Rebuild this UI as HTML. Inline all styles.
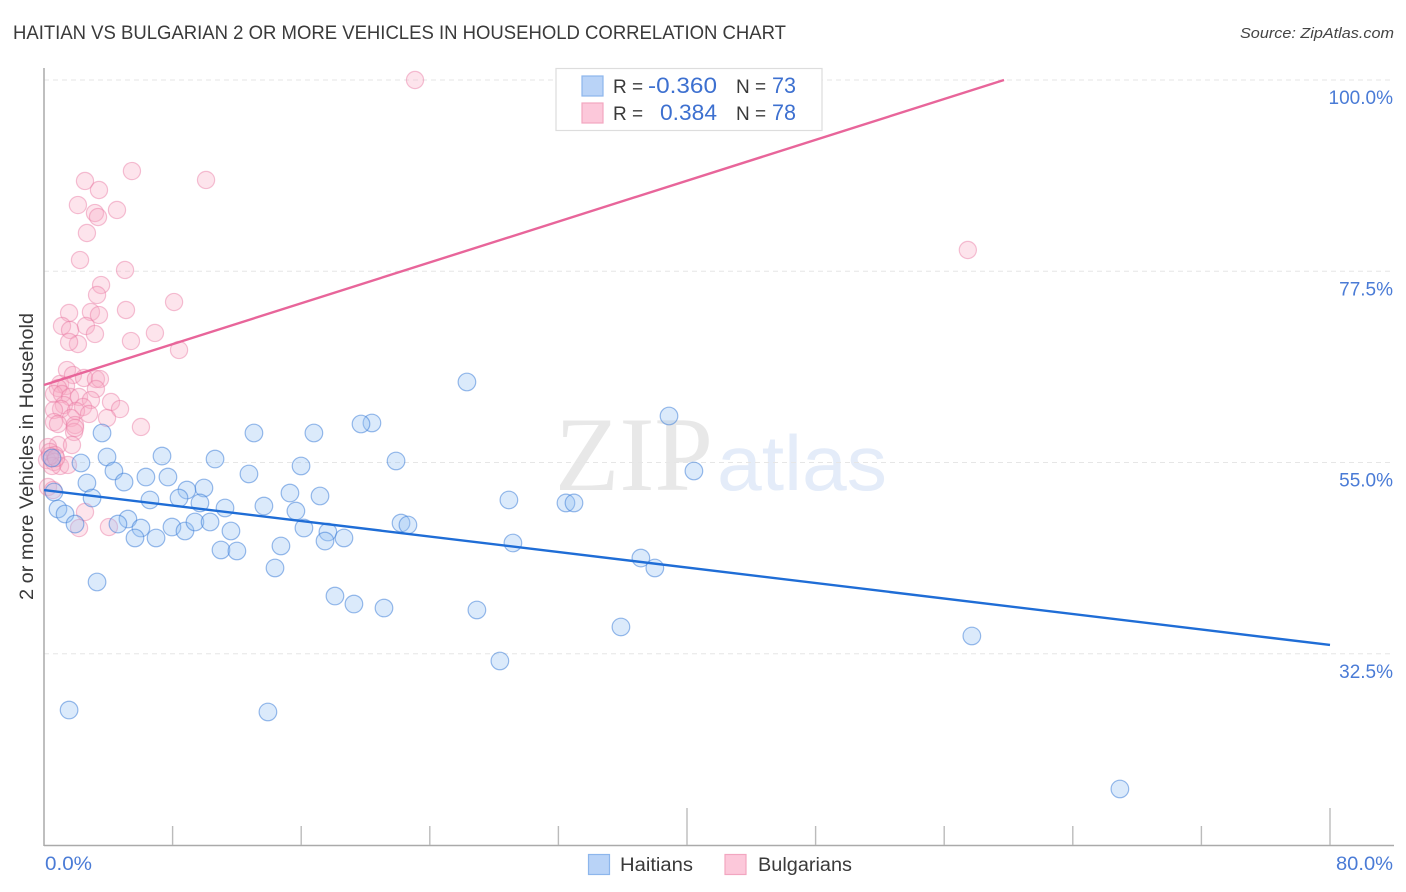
<!DOCTYPE html>
<html>
<head>
<meta charset="utf-8">
<style>
html,body{margin:0;padding:0;background:#fff;width:1406px;height:892px;overflow:hidden}
svg{display:block;font-family:"Liberation Sans",sans-serif}
</style>
</head>
<body>
<svg id="chart" width="1406" height="892" viewBox="0 0 1406 892" xmlns="http://www.w3.org/2000/svg">
  <text x="13" y="39" font-size="19" fill="#3a3a3a" textLength="773" lengthAdjust="spacingAndGlyphs">HAITIAN VS BULGARIAN 2 OR MORE VEHICLES IN HOUSEHOLD CORRELATION CHART</text>
  <text x="1394" y="38" font-size="15" font-style="italic" fill="#444" text-anchor="end" textLength="154" lengthAdjust="spacingAndGlyphs">Source: ZipAtlas.com</text>

  <g>
    <text x="555" y="490" font-family="'Liberation Serif',serif" font-size="106" fill="#e8e8e8" textLength="158" lengthAdjust="spacingAndGlyphs">ZIP</text>
    <text x="717" y="490" font-size="78" fill="#e4ecf9" textLength="170" lengthAdjust="spacingAndGlyphs">atlas</text>
  </g>

  <g id="grid"></g>
  <g id="axes"></g>
  <g id="ticklabels"></g>

  <text transform="translate(33,600) rotate(-90)" font-size="19" fill="#3a3a3a" textLength="287" lengthAdjust="spacingAndGlyphs">2 or more Vehicles in Household</text>

  <g id="pink-points"></g>
  <g id="blue-points"></g>
  <g id="trends"></g>

  <g>
    <rect x="556" y="68.5" width="266" height="62" fill="#fff" stroke="#ddd" stroke-width="1.2"/>
    <rect x="582" y="76" width="21" height="20" fill="#b9d3f7" stroke="#8db6ec" stroke-width="1.2"/>
    <rect x="582" y="103" width="21" height="20" fill="#fcc8da" stroke="#f2a6c0" stroke-width="1.2"/>
    <text x="613" y="93" font-size="19" fill="#3a3a3a">R =</text>
    <text x="717" y="93" font-size="22" fill="#3d70d0" text-anchor="end" textLength="69" lengthAdjust="spacingAndGlyphs">-0.360</text>
    <text x="736" y="93" font-size="19" fill="#3a3a3a">N =</text>
    <text x="796" y="93" font-size="22" fill="#3d70d0" text-anchor="end" textLength="24" lengthAdjust="spacingAndGlyphs">73</text>
    <text x="613" y="120" font-size="19" fill="#3a3a3a">R =</text>
    <text x="717" y="120" font-size="22" fill="#3d70d0" text-anchor="end" textLength="57" lengthAdjust="spacingAndGlyphs">0.384</text>
    <text x="736" y="120" font-size="19" fill="#3a3a3a">N =</text>
    <text x="796" y="120" font-size="22" fill="#3d70d0" text-anchor="end" textLength="24" lengthAdjust="spacingAndGlyphs">78</text>
  </g>

  <g>
    <rect x="588.5" y="854.5" width="21" height="20" fill="#b9d3f7" stroke="#8db6ec" stroke-width="1.2"/>
    <text x="620" y="871" font-size="19" fill="#3a3a3a" textLength="73" lengthAdjust="spacingAndGlyphs">Haitians</text>
    <rect x="725" y="854.5" width="21" height="20" fill="#fcc8da" stroke="#f2a6c0" stroke-width="1.2"/>
    <text x="758" y="871" font-size="19" fill="#3a3a3a" textLength="94" lengthAdjust="spacingAndGlyphs">Bulgarians</text>
  </g>
</svg>
<script>
var haitianX = [26.31,38.88,40.43,20.40,19.72,13.06,16.79,3.61,21.90,10.64,15.99,7.34,3.92,2.30,4.35,12.75,6.34,7.71,4.98,2.67,9.95,8.89,15.30,17.17,6.59,8.40,2.99,9.70,0.62,0.87,1.31,13.68,11.26,15.67,28.92,32.47,32.97,1.93,5.22,4.60,6.03,7.96,8.77,9.39,10.33,11.63,5.66,6.97,16.17,17.66,17.48,18.66,22.21,22.64,14.74,11.01,12.00,29.17,37.13,38.00,14.37,3.30,18.10,19.28,21.15,26.93,35.89,57.72,28.36,1.56,13.93,66.93,0.50];
var haitianY = [64.47,60.47,54.00,59.65,59.53,58.47,58.47,58.47,55.18,55.41,54.59,55.76,55.65,54.94,54.00,53.65,53.29,53.29,52.70,52.59,52.00,51.76,51.41,51.06,50.59,50.82,50.82,50.24,51.53,49.53,48.94,49.88,49.65,49.29,50.59,50.24,50.24,47.76,48.35,47.76,47.29,47.41,46.94,48.00,48.00,46.94,46.12,46.12,47.29,46.82,45.76,46.12,47.88,47.65,45.18,44.71,44.59,45.53,43.76,42.59,42.59,40.94,39.29,38.35,37.88,37.65,35.65,34.59,31.65,25.88,25.65,16.59,55.53];
var bulgarianX = [23.08,5.47,10.08,2.55,3.42,2.11,3.17,3.36,4.54,2.67,57.47,2.24,5.04,3.55,3.30,8.09,1.56,5.10,2.92,3.42,2.61,1.12,1.62,3.17,6.90,5.41,2.11,1.56,8.40,1.43,1.80,2.49,3.23,3.48,1.00,1.37,0.87,3.23,0.62,1.12,1.62,2.18,2.92,4.17,1.24,2.43,1.06,1.99,4.73,0.62,3.92,2.80,1.68,0.62,1.93,0.87,6.03,1.87,0.87,1.74,0.25,0.37,0.68,0.19,0.62,1.00,1.49,0.50,0.25,2.55,2.18,4.04,0.56,1.93,0.37,0.75];
var bulgarianY = [100,89.29,88.24,88.12,87.06,85.29,84.35,83.88,84.71,82.00,80.00,78.82,77.65,75.88,74.71,73.88,72.59,72.94,72.71,72.35,71.06,71.06,70.59,70.12,70.24,69.29,68.94,69.18,68.24,65.88,65.29,64.94,64.82,64.82,64.24,64.00,63.76,63.65,63.06,63.06,62.71,62.71,62.35,62.12,61.76,61.53,61.29,61.06,61.29,61.18,60.24,60.71,60.24,59.76,59.41,59.53,59.18,58.59,57.06,57.06,56.82,56.24,55.88,55.29,55.06,54.59,54.71,54.59,52.12,49.18,47.29,47.41,51.76,59.06,55.76,55.53];
var haitianTrendX = [0,80];
var haitianTrendY = [51.76,33.53];
var bulgarianTrendX = [0,59.72];
var bulgarianTrendY = [64.12,100];
var yTicks = [100,77.5,55,32.5];
var yTickLabels = ["100.0%","77.5%","55.0%","32.5%"];
var xTicks = [0,8,16,24,32,40,48,56,64,72,80];
var xMajorTicks = [0,40,80];
var xEndLabels = ["0.0%","80.0%"];

var NS = "http://www.w3.org/2000/svg";
function xScale(v){ return 44 + v * 16.075; }
function yScale(v){ return 80 + (100 - v) * 8.5; }
function make(tag, attrs, parent){
  var el = document.createElementNS(NS, tag);
  for (var k in attrs) el.setAttribute(k, attrs[k]);
  parent.appendChild(el);
  return el;
}

var gridG = document.getElementById("grid");
var axesG = document.getElementById("axes");
var labelsG = document.getElementById("ticklabels");

yTicks.forEach(function(t, i){
  var ln = make("line", {x1:44, x2:1394, y1:yScale(t), y2:yScale(t), stroke:"#e6e6e6", "stroke-width":1, "stroke-dasharray":"5 4"}, gridG);
  
  
  var tx = make("text", {x:1393, y:yScale(t) + 24, "font-size":19, fill:"#4a7bd6", "text-anchor":"end"}, labelsG);
  
  
  tx.textContent = yTickLabels[i];
});

var yAxis = make("line", {x1:44, x2:44, y1:68, y2:846, stroke:"#aaa", "stroke-width":1.5}, axesG);


var xAxis = make("line", {x1:44, x2:1394, y1:845.5, y2:845.5, stroke:"#aaa", "stroke-width":1.5}, axesG);



xTicks.forEach(function(t){
  if (t === 0) return;
  var major = xMajorTicks.indexOf(t) >= 0;
  var tk = make("line", {x1:xScale(t), x2:xScale(t), y1: major ? 808 : 826, y2:845, stroke:"#bbb", "stroke-width":1.4}, axesG);
  
  
});

var x0 = make("text", {x:45, y:870, "font-size":19, fill:"#4a7bd6", textLength:47, lengthAdjust:"spacingAndGlyphs"}, labelsG);


x0.textContent = xEndLabels[0];
var x1 = make("text", {x:1393, y:870, "font-size":19, fill:"#4a7bd6", "text-anchor":"end", textLength:57, lengthAdjust:"spacingAndGlyphs"}, labelsG);


x1.textContent = xEndLabels[1];

var pinkG = document.getElementById("pink-points");
bulgarianX.forEach(function(v, i){
  var c = make("circle", {cx:xScale(v), cy:yScale(bulgarianY[i]), r:8.6, fill:"rgba(248,170,197,0.32)", stroke:"rgba(232,120,162,0.45)", "stroke-width":1.2}, pinkG);
  
  
});
var blueG = document.getElementById("blue-points");
haitianX.forEach(function(v, i){
  var c = make("circle", {cx:xScale(v), cy:yScale(haitianY[i]), r:8.8, fill:"rgba(150,192,242,0.34)", stroke:"rgba(60,125,215,0.52)", "stroke-width":1.2}, blueG);
  
  
});

var trendG = document.getElementById("trends");
var tb = make("line", {x1:xScale(haitianTrendX[0]), y1:yScale(haitianTrendY[0]), x2:xScale(haitianTrendX[1]), y2:yScale(haitianTrendY[1]), stroke:"#1f6dd6", "stroke-width":2.4}, trendG);


var tp = make("line", {x1:xScale(bulgarianTrendX[0]), y1:yScale(bulgarianTrendY[0]), x2:xScale(bulgarianTrendX[1]), y2:yScale(bulgarianTrendY[1]), stroke:"#e8659a", "stroke-width":2.4}, trendG);


</script>
</body>
</html>
